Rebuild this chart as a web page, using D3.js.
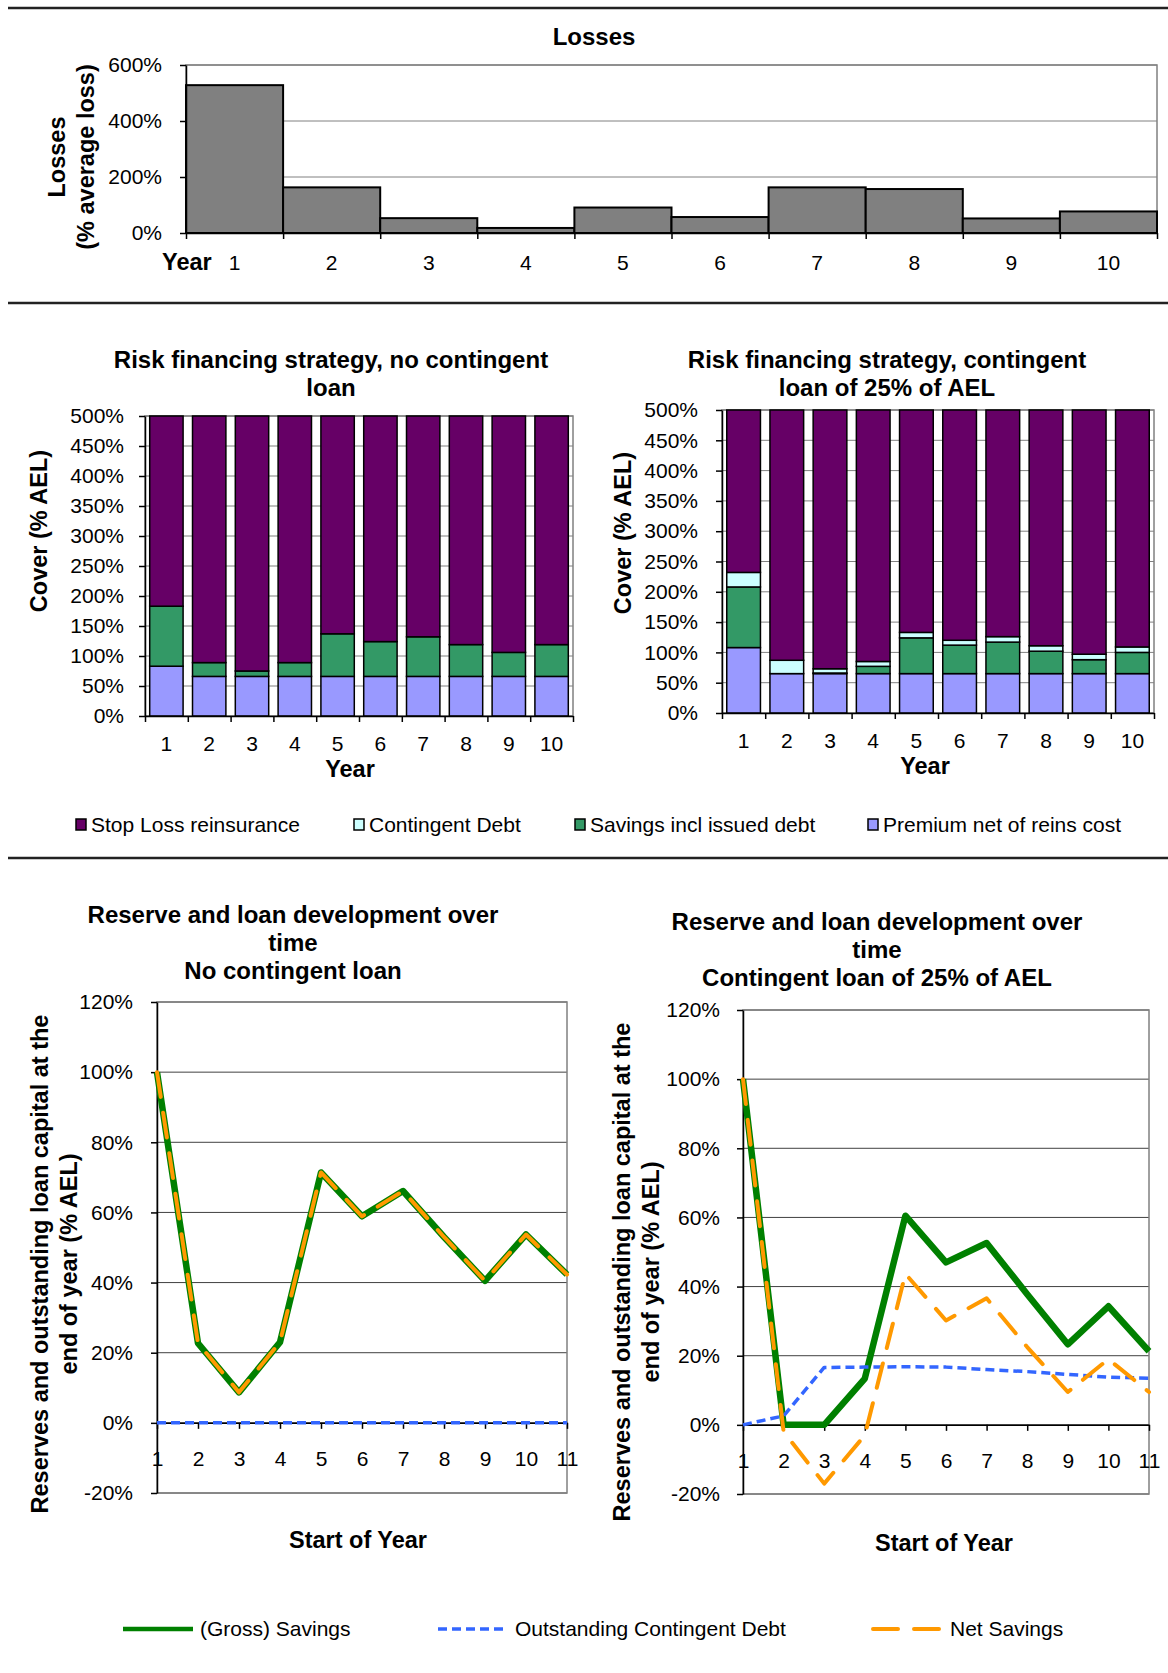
<!DOCTYPE html>
<html lang="en">
<head>
<meta charset="UTF-8">
<title>Risk financing strategy</title>
<script src="https://d3js.org/d3.v7.min.js"></script>
<style>
  body { margin: 0; background: #fff; }
  svg { display: block; font-family: "Liberation Sans", Arial, sans-serif; }
  .tick text { font-size: 21px; fill: #000; }
  .title { font-weight: bold; font-size: 24px; }
  .axtitle { font-weight: bold; font-size: 23.5px; }
  .legend text { font-size: 21px; }
</style>
</head>
<body>
<script>
// ---- data ----
const years = [1, 2, 3, 4, 5, 6, 7, 8, 9, 10];
const losses = [528, 163, 53, 18, 91, 57, 163, 157, 52, 77];
const lossTicks = [0, 200, 400, 600];

const coverTicks = [0, 50, 100, 150, 200, 250, 300, 350, 400, 450, 500];
// no contingent loan
const premiumA = [83, 66, 66, 66, 66, 66, 66, 66, 66, 66];
const savingsA = [100, 23, 9, 23, 71, 58, 66, 53, 40, 53];
const contingentA = [0, 0, 0, 0, 0, 0, 0, 0, 0, 0];
const stopLossA = [317, 411, 425, 411, 363, 376, 368, 381, 394, 381];
// contingent loan of 25% of AEL
const premiumB = [108, 65, 65, 65, 65, 65, 65, 65, 65, 65];
const savingsB = [100, 0, 1, 12, 59, 47, 52, 37, 23, 35];
const contingentB = [24, 22, 7, 8, 9, 8, 9, 9, 9, 9];
const stopLossB = [268, 413, 427, 415, 367, 380, 374, 389, 403, 391];

const stackKeys = ["premium", "savings", "contingent", "stopLoss"];
const stackNames = ["Stop Loss reinsurance", "Contingent Debt", "Savings incl issued debt", "Premium net of reins cost"];
const stackColors = {stopLoss: "#660066", contingent: "#CCFFFF", savings: "#339966", premium: "#9999FF"};

const lineYears = [1, 2, 3, 4, 5, 6, 7, 8, 9, 10, 11];
const reserveTicks = [-20, 0, 20, 40, 60, 80, 100, 120];
const grossNoLoan = [100, 22.7, 8.7, 23, 71.4, 58.9, 66.1, 53, 40.5, 53.7, 42.3];
const debtNoLoan = [0, 0, 0, 0, 0, 0, 0, 0, 0, 0, 0];
const netNoLoan = [100, 22.7, 8.7, 23, 71.4, 58.9, 66.1, 53, 40.5, 53.7, 42.3];
const grossLoan = [100, 0, 0, 13.4, 60.5, 47, 52.6, 37.8, 23.3, 34.3, 21.3];
const debtLoan = [0, 2.6, 16.6, 16.7, 16.8, 16.7, 16, 15.4, 14.6, 13.8, 13.5];
const netLoan = [100, -2, -17, -3, 43.7, 30.2, 36.6, 22.5, 9.5, 19, 9.5];

const lineNames = ["(Gross) Savings", "Outstanding Contingent Debt", "Net Savings"];
const lineStyles = [
  {color: "#008000", width: 6.5, dash: null, cap: "butt"},
  {color: "#3366FF", width: 3.5, dash: "9,5", cap: "butt"},
  {color: "#FF9900", width: 4, dash: "25,16", cap: "round"}
];

const pct = d => d + "%";

const svg = d3.select("body").append("svg")
  .attr("width", 1168)
  .attr("height", 1673);

// separators
[8, 303, 858].forEach(yy => {
  svg.append("line")
    .attr("x1", 8).attr("x2", 1168).attr("y1", yy).attr("y2", yy)
    .attr("stroke", "#222").attr("stroke-width", 2.5);
});

function vtext(x, y, str) {
  svg.append("text")
    .attr("class", "axtitle")
    .attr("transform", "translate(" + x + "," + y + ") rotate(-90)")
    .attr("text-anchor", "middle")
    .text(str);
}

function grid(g, y, ticks, x0, x1, color) {
  g.append("g").selectAll("line").data(ticks).join("line")
    .attr("x1", x0).attr("x2", x1)
    .attr("y1", d => y(d)).attr("y2", d => y(d))
    .attr("stroke", color || "#808080").attr("stroke-width", 1);
}

function frame(g, x0, x1, y0, y1) {
  g.append("rect")
    .attr("x", x0).attr("y", y0).attr("width", x1 - x0).attr("height", y1 - y0)
    .attr("fill", "none").attr("stroke", "#808080").attr("stroke-width", 1.5);
}

function leftAxis(g, y, ticks, x0, pad) {
  g.append("g")
    .attr("transform", "translate(" + x0 + ",0)")
    .call(d3.axisLeft(y).tickValues(ticks).tickFormat(pct).tickSize(6).tickSizeOuter(0).tickPadding(pad))
    .call(a => a.selectAll("path, line").attr("stroke", "#000").attr("stroke-width", 1.5));
}

// band axis: labels centred, ticks at category boundaries
function bandAxis(g, x, y0, pad) {
  g.append("g")
    .attr("transform", "translate(0," + y0 + ")")
    .call(d3.axisBottom(x).tickSize(0).tickPadding(pad))
    .call(a => a.select(".domain").remove());
  const edges = d3.scaleLinear().domain([0, x.domain().length]).range(x.range());
  g.append("g")
    .attr("transform", "translate(0," + y0 + ")")
    .call(d3.axisBottom(edges).tickValues(d3.range(0, x.domain().length + 1)).tickFormat("").tickSize(6).tickSizeOuter(0))
    .call(a => a.selectAll("path, line").attr("stroke", "#000").attr("stroke-width", 1.5));
}

// ---- top: losses ----
(function () {
  const L = 186, R = 1157, T = 65, B = 233;
  const g = svg.append("g");
  const x = d3.scaleBand().domain(years).range([L, R]).padding(0);
  const y = d3.scaleLinear().domain([0, 600]).range([B, T]);

  grid(g, y, lossTicks, L, R);
  frame(g, L, R, T, B);

  g.append("g").selectAll("rect").data(years).join("rect")
    .attr("x", d => x(d))
    .attr("y", (d, i) => y(losses[i]))
    .attr("width", x.bandwidth())
    .attr("height", (d, i) => B - y(losses[i]))
    .attr("fill", "#808080")
    .attr("stroke", "#000")
    .attr("stroke-width", 2);

  leftAxis(g, y, lossTicks, L, 18);
  bandAxis(g, x, B, 22);

  svg.append("text").attr("class", "title").attr("x", 594).attr("y", 45)
    .attr("text-anchor", "middle").text("Losses");
  svg.append("text").attr("class", "axtitle").attr("x", 162).attr("y", 270).text("Year");
  vtext(65, 157, "Losses");
  vtext(94, 157, "(% average loss)");
})();

// ---- middle: stacked cover ----
function stackChart(cfg) {
  const g = svg.append("g");
  const rows = years.map((yr, i) => ({
    year: yr, premium: cfg.premium[i], savings: cfg.savings[i],
    contingent: cfg.contingent[i], stopLoss: cfg.stopLoss[i]
  }));
  const series = d3.stack().keys(stackKeys)(rows);
  const x = d3.scaleBand().domain(years).range([cfg.L, cfg.R]).paddingInner(0.22).paddingOuter(0.11);
  const y = d3.scaleLinear().domain([0, 500]).range([cfg.B, cfg.T]);

  grid(g, y, coverTicks, cfg.L, cfg.R);
  frame(g, cfg.L, cfg.R, cfg.T, cfg.B);

  g.append("g").selectAll("g").data(series).join("g")
    .attr("fill", s => stackColors[s.key])
    .selectAll("rect").data(s => s.filter(d => d[1] > d[0])).join("rect")
    .attr("x", d => x(d.data.year))
    .attr("y", d => y(d[1]))
    .attr("width", x.bandwidth())
    .attr("height", d => y(d[0]) - y(d[1]))
    .attr("stroke", "#000")
    .attr("stroke-width", 1.5);

  leftAxis(g, y, coverTicks, cfg.L, cfg.pad);
  const bandX = d3.scaleBand().domain(years).range([cfg.L, cfg.R]);
  bandAxis(g, bandX, cfg.B, 20);

  cfg.title.forEach((t, i) => {
    svg.append("text").attr("class", "title").attr("x", cfg.titleX).attr("y", cfg.titleY + i * 28)
      .attr("text-anchor", "middle").text(t);
  });
  svg.append("text").attr("class", "axtitle").attr("x", cfg.yearX).attr("y", cfg.yearY)
    .attr("text-anchor", "middle").text("Year");
  vtext(cfg.vX, cfg.vY, "Cover (% AEL)");
}

stackChart({
  L: 145, R: 573, T: 416, B: 716, pad: 15,
  premium: premiumA, savings: savingsA, contingent: contingentA, stopLoss: stopLossA,
  title: ["Risk financing strategy, no contingent", "loan"], titleX: 331, titleY: 368,
  yearX: 350, yearY: 777, vX: 47, vY: 531
});
stackChart({
  L: 722, R: 1154, T: 410, B: 713, pad: 18,
  premium: premiumB, savings: savingsB, contingent: contingentB, stopLoss: stopLossB,
  title: ["Risk financing strategy, contingent", "loan of 25% of AEL"], titleX: 887, titleY: 368,
  yearX: 925, yearY: 774, vX: 631, vY: 533
});

// middle legend
(function () {
  const lg = svg.append("g").attr("class", "legend");
  const xs = [76, 354, 575, 868];
  const keysTopDown = ["stopLoss", "contingent", "savings", "premium"];
  keysTopDown.forEach((k, i) => {
    lg.append("rect").attr("x", xs[i]).attr("y", 819).attr("width", 10).attr("height", 11)
      .attr("fill", stackColors[k]).attr("stroke", "#000").attr("stroke-width", 1.5);
    lg.append("text").attr("x", xs[i] + 15).attr("y", 832).text(stackNames[i]);
  });
})();

// ---- bottom: reserves and loan ----
function lineChart(cfg) {
  const g = svg.append("g");
  const x = d3.scalePoint().domain(lineYears).range([cfg.L, cfg.R]);
  const y = d3.scaleLinear().domain([-20, 120]).range([cfg.B, cfg.T]);

  grid(g, y, reserveTicks, cfg.L, cfg.R, "#404040");
  frame(g, cfg.L, cfg.R, cfg.T, cfg.B);

  leftAxis(g, y, reserveTicks, cfg.L, cfg.pad);
  g.append("g")
    .attr("transform", "translate(0," + y(0) + ")")
    .call(d3.axisBottom(x).tickSize(6).tickSizeOuter(0).tickPadding(22))
    .call(a => a.selectAll("path, line").attr("stroke", "#000").attr("stroke-width", 1.5));

  const line = d3.line().x((d, i) => x(lineYears[i])).y(d => y(d));
  [cfg.gross, cfg.debt, cfg.net].forEach((vals, i) => {
    const st = lineStyles[i];
    g.append("path")
      .attr("d", line(vals))
      .attr("fill", "none")
      .attr("stroke", st.color)
      .attr("stroke-width", st.width)
      .attr("stroke-dasharray", st.dash)
      .attr("stroke-linecap", st.cap)
      .attr("stroke-linejoin", "round");
  });

  cfg.title.forEach((t, i) => {
    svg.append("text").attr("class", "title").attr("x", cfg.titleX).attr("y", cfg.titleY + i * 28)
      .attr("text-anchor", "middle").text(t);
  });
  svg.append("text").attr("class", "axtitle").attr("x", cfg.sX).attr("y", cfg.sY)
    .attr("text-anchor", "middle").text("Start of Year");
  vtext(cfg.vX, cfg.vY, "Reserves and outstanding loan capital at the");
  vtext(cfg.vX + 29, cfg.vY, "end of year (% AEL)");
}

lineChart({
  L: 157, R: 567, T: 1002, B: 1493, pad: 18,
  gross: grossNoLoan, debt: debtNoLoan, net: netNoLoan,
  title: ["Reserve and loan development over", "time", "No contingent loan"], titleX: 293, titleY: 923,
  sX: 358, sY: 1548, vX: 48, vY: 1264
});
lineChart({
  L: 743, R: 1149, T: 1010, B: 1494, pad: 17,
  gross: grossLoan, debt: debtLoan, net: netLoan,
  title: ["Reserve and loan development over", "time", "Contingent loan of 25% of AEL"], titleX: 877, titleY: 930,
  sX: 944, sY: 1551, vX: 630, vY: 1272
});

// bottom legend
(function () {
  const lg = svg.append("g").attr("class", "legend");
  const xs = [123, 438, 873];
  lineNames.forEach((n, i) => {
    const st = lineStyles[i];
    lg.append("line").attr("x1", xs[i]).attr("x2", xs[i] + 70).attr("y1", 1629).attr("y2", 1629)
      .attr("stroke", st.color).attr("stroke-width", Math.min(st.width, 4.5))
      .attr("stroke-dasharray", st.dash).attr("stroke-linecap", st.cap);
    lg.append("text").attr("x", xs[i] + 77).attr("y", 1636).text(n);
  });
})();
</script>
</body>
</html>
